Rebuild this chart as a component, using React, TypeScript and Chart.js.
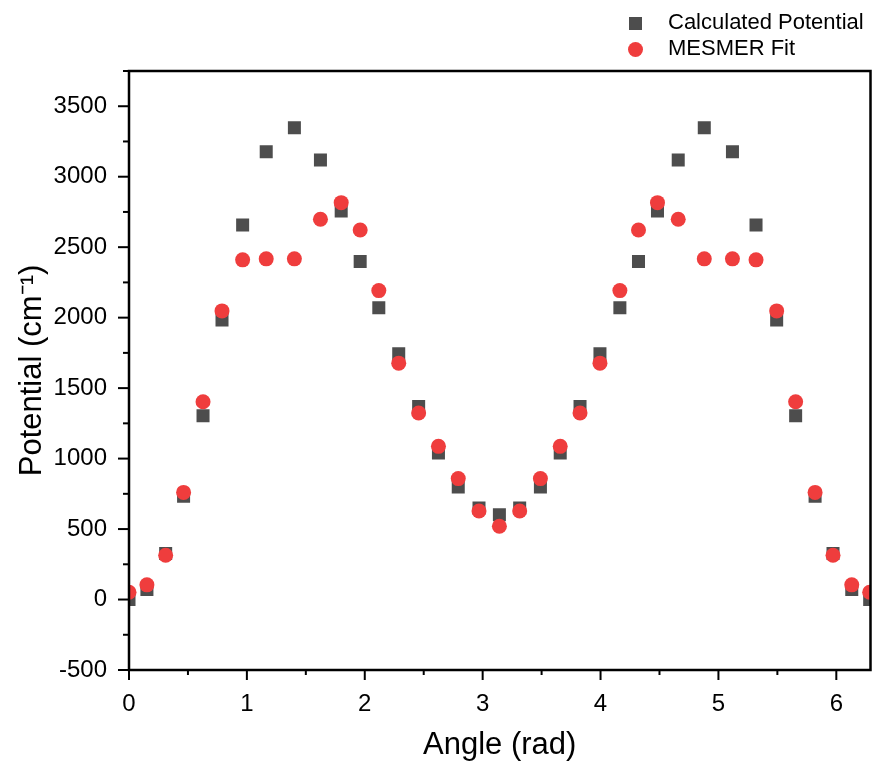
import React, { useEffect, useRef } from 'react';
import { Chart, registerables } from 'chart.js';

Chart.register(...registerables);

const FONT = "'Liberation Sans', Arial, sans-serif";

const angles = [
  0, 0.152, 0.311, 0.463, 0.628, 0.789, 0.964, 1.164, 1.403, 1.624, 1.8, 1.961,
  2.119, 2.288, 2.457, 2.625, 2.793, 2.969, 3.142, 3.314, 3.49, 3.658, 3.826,
  3.995, 4.164, 4.322, 4.483, 4.659, 4.88, 5.119, 5.319, 5.494, 5.655, 5.82,
  5.972, 6.131, 6.283,
];

const calculatedPotential = [
  0, 71, 326, 732, 1304, 1984, 2658, 3177, 3347, 3118, 2757, 2398, 2071, 1743,
  1370, 1040, 799, 650, 602, 650, 799, 1040, 1370, 1743, 2071, 2398, 2757,
  3118, 3347, 3177, 2658, 1984, 1304, 732, 326, 71, 0,
];

const mesmerFit = [
  52, 104, 314, 760, 1403, 2048, 2410, 2417, 2417, 2698, 2816, 2622, 2192, 1677,
  1323, 1087, 858, 628, 520, 628, 858, 1087, 1323, 1677, 2192, 2622, 2816,
  2698, 2417, 2417, 2410, 2048, 1403, 760, 314, 104, 52,
];

const xTickValues = [0, 1, 2, 3, 4, 5, 6];
const yTickValues = [-500, 0, 500, 1000, 1500, 2000, 2500, 3000, 3500];

const SQUARE_COLOR = '#4d4d4d';
const CIRCLE_COLOR = '#ef3d3d';

const framePlugin = {
  id: 'framePlugin',
  afterDraw(chart: any) {
    const { ctx, chartArea, scales } = chart;
    const { left, right, top, bottom } = chartArea;
    const xs = scales.x;
    const ys = scales.y;
    ctx.save();
    ctx.strokeStyle = '#000';
    ctx.lineWidth = 2;
    for (let i = 0; i <= 12; i++) {
      const v = i * 0.5;
      if (v > xs.max + 1e-9) break;
      const px = xs.getPixelForValue(v);
      const len = i % 2 === 0 ? 10 : 5;
      ctx.beginPath();
      ctx.moveTo(px, bottom);
      ctx.lineTo(px, bottom + len);
      ctx.stroke();
    }
    for (let i = 0; i <= 17; i++) {
      const v = -500 + i * 250;
      if (v > ys.max + 1e-9) break;
      const py = ys.getPixelForValue(v);
      const len = i % 2 === 0 ? 11 : 6;
      ctx.beginPath();
      ctx.moveTo(left, py);
      ctx.lineTo(left - len, py);
      ctx.stroke();
    }
    ctx.lineWidth = 2.5;
    ctx.strokeRect(left, top, right - left, bottom - top);
    ctx.restore();
  },
};

export default function App() {
  const canvasRef = useRef<HTMLCanvasElement | null>(null);

  useEffect(() => {
    document.body.style.margin = '0';
    const canvas = canvasRef.current;
    if (!canvas) return;
    const calcPoints = angles.map((a, i) => ({ x: a, y: calculatedPotential[i] }));
    const fitPoints = angles.map((a, i) => ({ x: a, y: mesmerFit[i] }));
    const chart = new Chart(canvas, {
      type: 'scatter',
      data: {
        datasets: [
          {
            label: 'Calculated Potential',
            data: calcPoints,
            pointStyle: 'rect',
            pointRadius: 9.2,
            pointHoverRadius: 9.2,
            backgroundColor: SQUARE_COLOR,
            borderColor: SQUARE_COLOR,
            borderWidth: 0,
            order: 2,
            clip: 0,
          } as any,
          {
            label: 'MESMER Fit',
            data: fitPoints,
            pointStyle: 'circle',
            pointRadius: 7.5,
            pointHoverRadius: 7.5,
            backgroundColor: CIRCLE_COLOR,
            borderColor: CIRCLE_COLOR,
            borderWidth: 0,
            order: 1,
            clip: 0,
          } as any,
        ],
      },
      options: {
        responsive: false,
        animation: false,
        devicePixelRatio: 1,
        events: [],
        layout: { autoPadding: false, padding: { top: 71, right: 1.5, left: 0, bottom: 0 } },
        plugins: {
          legend: { display: false },
          tooltip: { enabled: false },
        },
        scales: {
          x: {
            type: 'linear',
            position: 'bottom',
            min: 0,
            max: 6.29,
            grid: { display: false, drawTicks: false },
            border: { display: false },
            afterBuildTicks: (s: any) => {
              s.ticks = xTickValues.map((v) => ({ value: v }));
            },
            ticks: {
              padding: 20,
              color: '#000',
              maxRotation: 0,
              autoSkip: false,
              font: { size: 24, family: FONT },
              callback: (v: any) => String(v),
            },
            title: {
              display: true,
              text: 'Angle (rad)',
              color: '#000',
              font: { size: 31, family: FONT },
              padding: { top: 0, bottom: 1 },
            },
            afterFit: (s: any) => {
              s.height = 95;
            },
          },
          y: {
            type: 'linear',
            min: -500,
            max: 3750,
            grid: { display: false, drawTicks: false },
            border: { display: false },
            afterBuildTicks: (s: any) => {
              s.ticks = yTickValues.map((v) => ({ value: v }));
            },
            ticks: {
              padding: 22,
              color: '#000',
              autoSkip: false,
              font: { size: 24, family: FONT },
              callback: (v: any) => String(v),
            },
            title: {
              display: true,
              text: 'Potential (cm\u207B\u00B9)',
              color: '#000',
              font: { size: 31, family: FONT },
              padding: { top: 14, bottom: 0 },
            },
            afterFit: (s: any) => {
              s.width = 129;
            },
          },
        },
      },
      plugins: [framePlugin],
    });
    return () => chart.destroy();
  }, []);

  const legendText: React.CSSProperties = {
    position: 'absolute',
    left: 668,
    fontFamily: FONT,
    fontSize: 22,
    lineHeight: '26px',
    color: '#000',
    whiteSpace: 'nowrap',
  };

  return (
    <div style={{ position: 'relative', width: 872, height: 765, background: '#fff' }}>
      <canvas ref={canvasRef} width={872} height={765} style={{ display: 'block' }} />
      <div
        style={{
          position: 'absolute',
          left: 629,
          top: 17,
          width: 13,
          height: 13,
          background: SQUARE_COLOR,
        }}
      />
      <div style={{ ...legendText, top: 9 }}>Calculated Potential</div>
      <div
        style={{
          position: 'absolute',
          left: 628,
          top: 42,
          width: 15,
          height: 15,
          borderRadius: '50%',
          background: CIRCLE_COLOR,
        }}
      />
      <div style={{ ...legendText, top: 35 }}>MESMER Fit</div>
    </div>
  );
}
